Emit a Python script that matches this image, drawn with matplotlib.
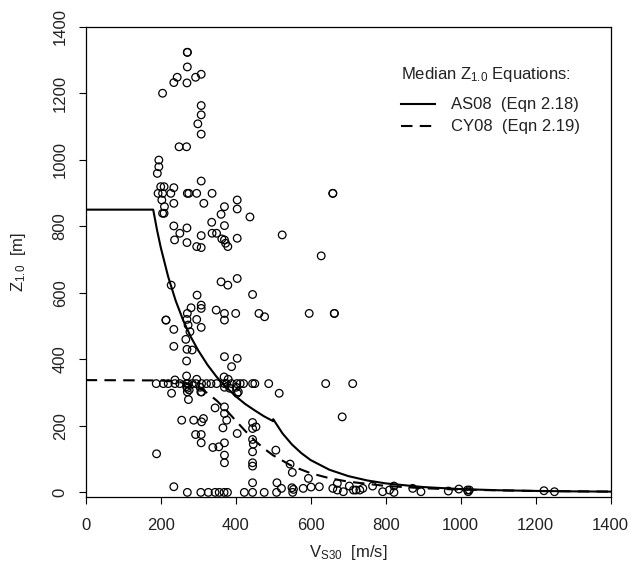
import matplotlib
matplotlib.use("Agg")
import matplotlib.pyplot as plt

plt.rcParams['font.family'] = ['Liberation Sans', 'DejaVu Sans']
plt.rcParams['mathtext.fontset'] = 'custom'
plt.rcParams['mathtext.rm'] = 'Liberation Sans'
plt.rcParams['mathtext.default'] = 'regular'

vs30 = [271, 271, 271, 244, 235, 270, 293, 308, 205, 308, 308, 299, 308, 249, 269, 195, 195, 191, 308, 200, 209, 235,
        193, 205, 227, 271, 275, 296, 337,
        203, 235, 315, 404, 370, 404, 210, 205, 209, 361, 438, 336, 370, 235, 270, 251, 237, 270, 308, 337, 349,
        363, 370, 373, 379, 404, 296, 308, 524, 659, 659, 628,
        228, 361, 379, 404, 297, 445, 281, 308, 308, 348, 370, 400, 462, 477, 596, 663, 663, 271, 214, 214, 270,
        296, 370, 273, 235, 308, 278, 267, 235, 270, 284, 269, 370, 404, 389,
        188, 207, 220, 238, 251, 269, 273, 284, 294, 309, 322, 334, 349, 370, 376, 389, 403, 412, 421, 445, 451,
        488, 640, 712,
        238, 269, 296, 269, 276, 305, 309, 369, 380, 401, 407, 370, 384, 271, 271, 274, 229, 307, 404, 516,
        345, 370, 370, 376, 256, 288, 309, 314, 366, 404, 445, 454, 445, 293, 308, 308, 339, 355, 370, 445, 447,
        445, 370, 370, 445, 445, 507, 189, 545, 551, 445, 594, 235, 510, 522, 550, 554, 580, 601, 623, 684,
        659, 671, 671, 687, 703, 714, 721, 731, 739, 765, 792, 810, 822, 822, 872, 894, 967, 995, 1018, 1020,
        1023, 1222, 1250,
        271, 307, 327, 345, 356, 369, 378, 423, 445, 476, 509, 552]
z10 = [1323, 1323, 1279, 1248, 1232, 1231, 1248, 1257, 1200, 1163, 1135, 1108, 1077, 1039, 1039, 999, 979, 959,
       936, 919, 919, 916,
       899, 899, 899, 899, 899, 899, 899,
       879, 869, 869, 879, 859, 852, 859, 839, 839, 836, 828, 812, 802, 801, 795, 779, 759, 751, 772, 779, 779,
       762, 759, 749, 739, 764, 739, 736, 774, 899, 899, 711,
       623, 633, 623, 643, 593, 595, 555, 563, 553, 548, 538, 538, 538, 528, 538, 538, 538, 538, 518, 518, 520,
       520, 518, 503, 490, 496, 483, 460, 439, 430, 428, 395, 408, 403, 378,
       327, 327, 327, 327, 327, 327, 327, 327, 327, 327, 327, 327, 327, 327, 327, 327, 327, 327, 327, 327, 327,
       327, 327, 327,
       338, 350, 340, 318, 308, 316, 302, 347, 340, 316, 302, 316, 313, 313, 302, 279, 298, 302, 298, 298,
       254, 257, 237, 217, 217, 217, 212, 222, 194, 177, 210, 197, 192, 174, 174, 149, 135, 137, 149, 159, 145,
       122, 112, 89, 89, 79, 127, 116, 85, 60, 29, 42, 17, 29, 12, 14, 9, 12, 16, 17, 227,
       12, 7, 27, 2, 19, 7, 7, 7, 12, 19, 2, 7, 19, 0, 12, 2, 4, 10, 7, 2,
       7, 5, 2,
       0, 0, 0, 0, 0, 0, 0, 0, 0, 0, 0, 0]

# median Z1.0 equations, tabulated
as08_v = [0, 180, 190, 200, 220, 240, 260, 280, 300, 325, 350, 375, 400, 425, 450, 475, 500, 500,
          525, 550, 575, 600, 650, 700, 750, 800, 900, 1000, 1100, 1200, 1300, 1400]
as08_z = [850, 850, 790, 737, 648, 576, 517, 468, 427, 383, 346, 316, 289, 266, 247, 229, 214, 220,
          177, 144, 118, 97, 68, 49, 36, 27, 16, 9.9, 6.4, 4.4, 3.0, 2.2]
cy08_v = [0, 200, 250, 275, 300, 325, 350, 375, 400, 425, 450, 475, 500, 550, 600, 650, 700, 800, 900,
          1000, 1200, 1400]
cy08_z = [337.5, 336.5, 331.8, 325.7, 315.0, 298.4, 275.3, 246.9, 215.9, 185.2, 156.9, 132.1, 111.2, 79.2,
          57.5, 42.6, 32.2, 19.4, 12.4, 8.3, 4.1, 2.3]

W, H = 631, 574
fig = plt.figure(figsize=(W / 100, H / 100), dpi=100)
ax = fig.add_axes([85.7 / W, 1 - 496.7 / H, 525 / W, 470 / H])

txt = '#222222'
fs = 12
ax.scatter(vs30, z10, s=30, facecolors='none', edgecolors='black', linewidths=0.9, zorder=3)
ax.plot(as08_v, as08_z, color='black', lw=1.5, zorder=4)
ax.plot(cy08_v, cy08_z, color='black', lw=1.5, ls=(0, (5.5, 3.5)), zorder=4)

ax.set_xlim(0, 1400)
ax.set_ylim(-13, 1400)
ax.set_xticks(range(0, 1401, 200))
ax.set_yticks(range(0, 1401, 200))
ax.tick_params(direction='out', length=5, width=0.8, labelsize=fs, colors='black', labelcolor=txt)
ax.tick_params(axis='x', pad=10)
ax.tick_params(axis='y', pad=8)
for lab in ax.get_yticklabels():
    lab.set_rotation(90)
    lab.set_va('center')
for sp in ax.spines.values():
    sp.set_linewidth(0.9)

fig.text(348 / W, 1 - 553 / H, r'V$_{S30}$  [m/s]', ha='center', va='center', fontsize=fs, color=txt)
fig.text(19 / W, 1 - 262 / H, r'Z$_{1.0}$  [m]', ha='center', va='center', rotation=90, fontsize=fs, color=txt)

# legend drawn by hand, no frame
fig.text(401 / W, 1 - 75 / H, r'Median Z$_{1.0}$ Equations:', ha='left', va='center', fontsize=fs, color=txt)
fig.add_artist(plt.Line2D([401 / W, 435 / W], [1 - 103.5 / H] * 2, color='black', lw=1.5))
fig.add_artist(plt.Line2D([401 / W, 435 / W], [1 - 126 / H] * 2, color='black', lw=1.5, ls=(0, (5.5, 3.5))))
fig.text(451 / W, 1 - 104 / H, 'AS08  (Eqn 2.18)', ha='left', va='center', fontsize=fs, color=txt)
fig.text(451 / W, 1 - 126.5 / H, 'CY08  (Eqn 2.19)', ha='left', va='center', fontsize=fs, color=txt)

fig.savefig('out.png', dpi=100)
